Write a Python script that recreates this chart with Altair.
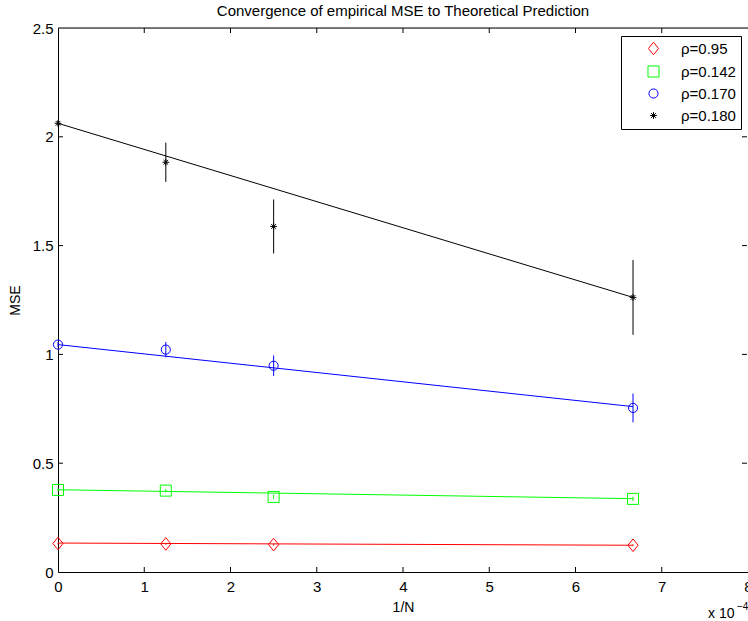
import altair as alt
import pandas as pd

# ---- data ----
inv_n = [0.0, 1.25, 2.5, 6.667]           # 1/N (x 10^-4)
series = ["ρ=0.95", "ρ=0.142", "ρ=0.170", "ρ=0.180"]
colors = ["#ff0000", "#00ff00", "#0000ff", "#000000"]

mse = {
    "ρ=0.95":  [0.131, 0.129, 0.126, 0.123],
    "ρ=0.142": [0.377, 0.374, 0.345, 0.336],
    "ρ=0.170": [1.045, 1.022, 0.948, 0.754],
    "ρ=0.180": [2.062, 1.883, 1.588, 1.262],
}
err = {
    "ρ=0.95":  [0.004, 0.004, 0.004, 0.004],
    "ρ=0.142": [0.008, 0.008, 0.010, 0.010],
    "ρ=0.170": [0.012, 0.035, 0.047, 0.066],
    "ρ=0.180": [0.010, 0.090, 0.124, 0.172],
}
theory_x = [0.0, 6.667]
theory = {
    "ρ=0.95":  [0.133, 0.123],
    "ρ=0.142": [0.378, 0.337],
    "ρ=0.170": [1.045, 0.760],
    "ρ=0.180": [2.062, 1.262],
}
x_ticks = [0, 1, 2, 3, 4, 5, 6, 7, 8]
y_ticks = [0, 0.5, 1, 1.5, 2, 2.5]

rows = []
for s in series:
    for xv, yv, ev in zip(inv_n, mse[s], err[s]):
        rows.append({"x": xv, "y": yv, "lo": yv - ev, "hi": yv + ev, "s": s})
pts = pd.DataFrame(rows)
lines = pd.DataFrame([{"x": xv, "y": yv, "s": s}
                      for s in series for xv, yv in zip(theory_x, theory[s])])
xt = pd.DataFrame({"v": x_ticks})
yt = pd.DataFrame({"v": y_ticks})

W, H = 690, 544
FONT = "Liberation Sans"

xscale = alt.Scale(domain=[0, 8], nice=False, zero=False)
yscale = alt.Scale(domain=[0, 2.5], nice=False, zero=False)
cscale = alt.Scale(domain=series, range=colors)
legend = alt.Legend(orient="none", legendX=563, legendY=8,
                    strokeColor="black", fillColor="white",
                    padding=5, rowPadding=6, labelFontSize=15,
                    labelFont=FONT, labelColor="black",
                    symbolStrokeWidth=1, labelOffset=20, symbolOffset=20,
                    labelExpr="datum.label + '\u00a0\u00a0\u00a0'",
                    offset=0, cornerRadius=0, title=None)
color = alt.Color("s:N", scale=cscale, title=None, legend=legend)
shape = alt.Shape("s:N", title=None, legend=legend, scale=alt.Scale(
    domain=series,
    range=["M0,-1L0.8,0L0,1L-0.8,0Z", "square", "circle",
           "M0,-1L0,1M-1,0L1,0M-0.7,-0.7L0.7,0.7M-0.7,0.7L0.7,-0.7"]))
size = alt.Size("s:N", title=None, legend=legend,
                scale=alt.Scale(domain=series, range=[160, 45, 100, 120]))

xax = alt.Axis(values=x_ticks, format="d", ticks=False, grid=False, domain=True,
               domainColor="black", labelFont=FONT, labelFontSize=15, labelColor="black",
               labelPadding=7, labelFlush=False, title="1/N", titleFont=FONT,
               titleFontSize=14, titleFontWeight="normal", titleColor="black",
               titlePadding=6)
yax = alt.Axis(values=y_ticks, ticks=False, grid=False, domain=True,
               domainColor="black", labelFont=FONT, labelFontSize=15, labelColor="black",
               labelPadding=5, labelFlush=False, format="~g", title="MSE",
               titleFont=FONT, titleFontSize=14, titleFontWeight="normal",
               titleColor="black", titlePadding=10)

base = alt.Chart(pts)

line_layer = alt.Chart(lines).mark_line(strokeWidth=1).encode(
    x=alt.X("x:Q", scale=xscale, axis=xax),
    y=alt.Y("y:Q", scale=yscale, axis=yax),
    color=color,
    detail="s:N",
)
err_layer = base.mark_rule(strokeWidth=1).encode(
    x="x:Q", y="lo:Q", y2="hi:Q", color=color,
)
pt_layer = base.mark_point(filled=False, strokeWidth=1, opacity=1).encode(
    x="x:Q", y="y:Q", color=color, shape=shape, size=size,
)

# inward ticks on all four sides
tick_style = dict(color="black", strokeWidth=1)
xt_in = xt[(xt.v > 0) & (xt.v < 8)]
yt_in = yt[(yt.v > 0) & (yt.v < 2.5)]
bottom_ticks = alt.Chart(xt_in).mark_rule(**tick_style).encode(
    x=alt.X("v:Q", scale=xscale), y=alt.value(H), y2=alt.value(H - 5))
top_ticks = alt.Chart(xt_in).mark_rule(**tick_style).encode(
    x=alt.X("v:Q", scale=xscale), y=alt.value(0), y2=alt.value(5))
left_ticks = alt.Chart(yt_in).mark_rule(**tick_style).encode(
    y=alt.Y("v:Q", scale=yscale), x=alt.value(0), x2=alt.value(5))
right_ticks = alt.Chart(yt_in).mark_rule(**tick_style).encode(
    y=alt.Y("v:Q", scale=yscale), x=alt.value(W - 1), x2=alt.value(W - 6))
top_border = alt.Chart(xt.head(1)).mark_rule(color="black", strokeWidth=1).encode(
    x=alt.value(0), x2=alt.value(W), y=alt.value(0))

exp_text = alt.Chart(xt.head(1)).mark_text(
    font=FONT, fontSize=14, align="left", color="black", baseline="alphabetic"
).encode(x=alt.value(W - 40), y=alt.value(H + 46), text=alt.value("x 10"))
exp_sup = alt.Chart(xt.head(1)).mark_text(
    font=FONT, fontSize=10, align="left", color="black", baseline="alphabetic"
).encode(x=alt.value(W - 11), y=alt.value(H + 38), text=alt.value("−4"))

chart = alt.layer(
    line_layer, err_layer, pt_layer,
    bottom_ticks, top_ticks, left_ticks, right_ticks, top_border,
    exp_text, exp_sup,
).properties(
    width=W, height=H,
    title=alt.Title("Convergence of empirical MSE to Theoretical Prediction",
                    font=FONT, fontSize=15, fontWeight="normal", color="black",
                    anchor="middle", offset=2),
    autosize=alt.AutoSizeParams(type="none"),
    padding={"left": 58, "top": 28, "right": 0, "bottom": 49},
).configure_view(stroke=None).configure(background="white")

chart.save("out.html", embed_options={"renderer": "svg", "actions": False})
